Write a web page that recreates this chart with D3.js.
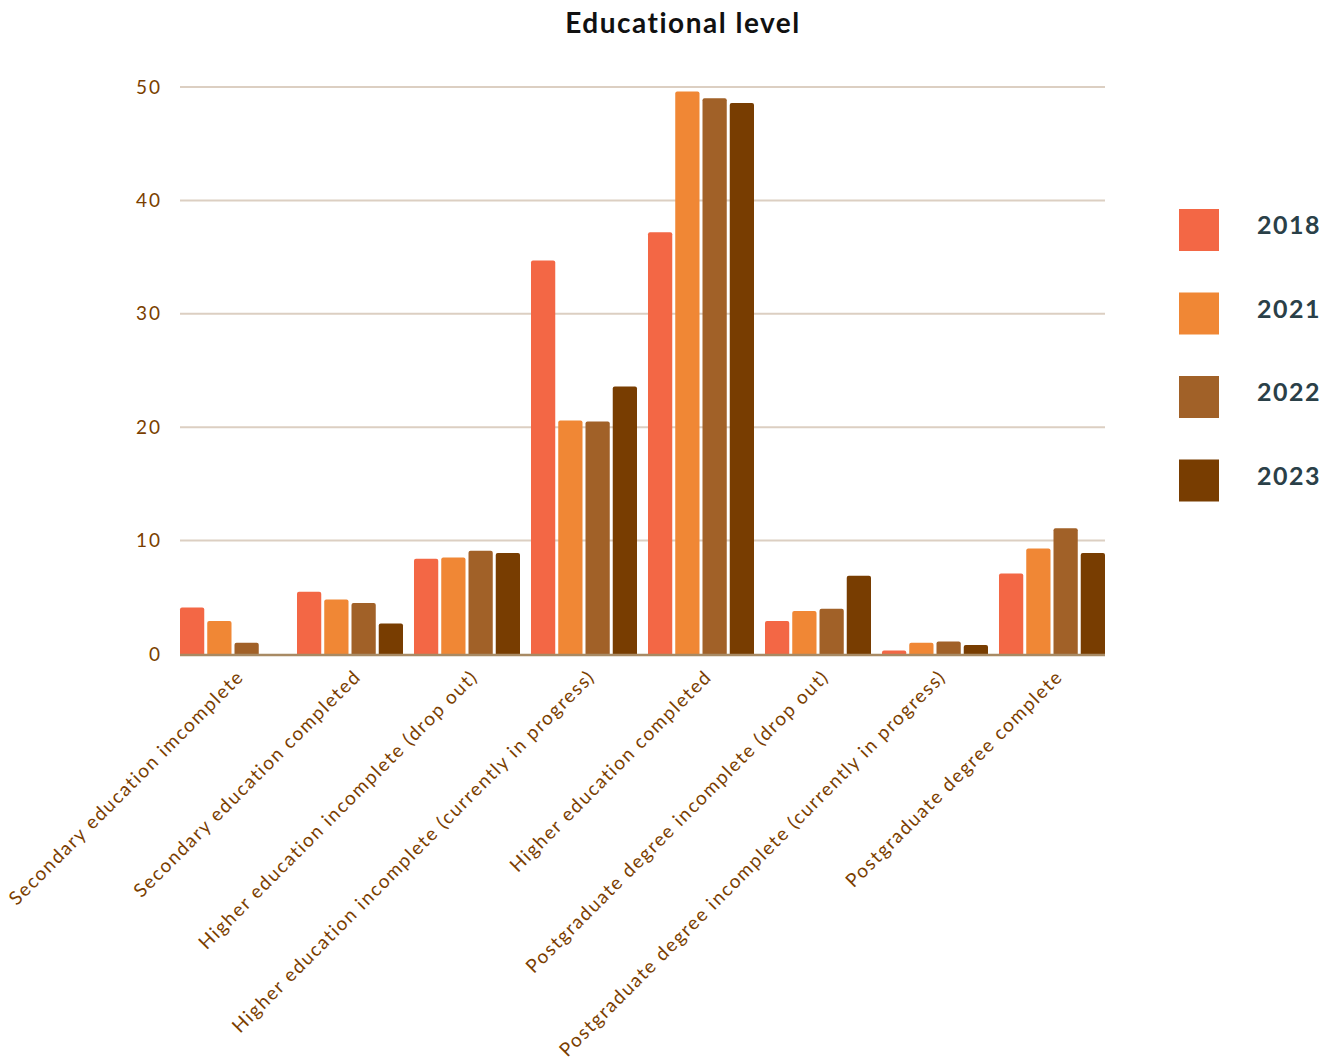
<!DOCTYPE html>
<html>
<head>
<meta charset="utf-8">
<script src="https://cdn.jsdelivr.net/npm/d3@7"></script>
<style>
  body { margin: 0; background: #fff; }
  text { font-family: Lato, "Open Sans", sans-serif; }
</style>
</head>
<body>
<script>
const width = 1342;
const height = 1061;
const marginTop = 87;
const marginLeft = 180;
const plotRight = 1105;
const plotBottom = 654;

const categories = [
  "Secondary education imcomplete",
  "Secondary education completed",
  "Higher education incomplete (drop out)",
  "Higher education incomplete (currently in progress)",
  "Higher education completed",
  "Postgraduate degree incomplete (drop out)",
  "Postgraduate degree incomplete (currently in progress)",
  "Postgraduate degree complete"
];
const years = ["2018", "2021", "2022", "2023"];
const colors = ["#f36745", "#f08735", "#a16128", "#783d01"];

const values2018 = [4.1, 5.5, 8.4, 34.7, 37.2, 2.9, 0.3, 7.1];
const values2021 = [2.9, 4.8, 8.5, 20.6, 49.6, 3.8, 1.0, 9.3];
const values2022 = [1.0, 4.5, 9.1, 20.5, 49.0, 4.0, 1.1, 11.1];
const values2023 = [0.0, 2.7, 8.9, 23.6, 48.6, 6.9, 0.8, 8.9];
const series = [values2018, values2021, values2022, values2023];
const yTicks = [0, 10, 20, 30, 40, 50];

const svg = d3.select("body").append("svg")
    .attr("width", width)
    .attr("height", height);

const x0 = d3.scaleBand()
    .domain(categories)
    .range([marginLeft, plotRight])
    .paddingInner(0.094)
    .paddingOuter(0);

const x1 = d3.scaleBand()
    .domain(years)
    .range([0, x0.bandwidth()])
    .paddingInner(0.11);

const y = d3.scaleLinear()
    .domain([0, 50])
    .range([plotBottom, marginTop]);

const color = d3.scaleOrdinal().domain(years).range(colors);

//title
svg.append("text")
    .attr("x", 683)
    .attr("y", 33)
    .attr("text-anchor", "middle")
    .attr("font-size", 28)
    .attr("font-weight", "bold")
    .attr("letter-spacing", 1.5)
    .attr("fill", "#111")
    .text("Educational level");

//grid lines
svg.append("g")
  .selectAll("line")
  .data(yTicks.filter(d => d > 0))
  .join("line")
    .attr("x1", marginLeft)
    .attr("x2", plotRight)
    .attr("y1", d => y(d))
    .attr("y2", d => y(d))
    .attr("stroke", "#dccfc2")
    .attr("stroke-width", 2);

//y labels
svg.append("g")
  .selectAll("text")
  .data(yTicks)
  .join("text")
    .attr("x", 162)
    .attr("y", d => y(d))
    .attr("dy", "0.35em")
    .attr("text-anchor", "end")
    .attr("font-size", 19)
    .attr("letter-spacing", 2)
    .attr("fill", "#7a3e00")
    .text(d => d);

//bars
const rows = categories.map((c, i) => ({
  category: c,
  bars: years.map((yr, j) => ({ year: yr, value: series[j][i] }))
}));

const groups = svg.append("g")
  .selectAll("g")
  .data(rows)
  .join("g")
    .attr("transform", d => `translate(${x0(d.category)},0)`);

groups.selectAll("rect")
  .data(d => d.bars.filter(b => b.value > 0))
  .join("rect")
    .attr("x", d => x1(d.year))
    .attr("y", d => y(d.value))
    .attr("width", x1.bandwidth())
    .attr("height", d => y(0) - y(d.value) + 2)
    .attr("rx", 2)
    .attr("fill", d => color(d.year));

//baseline
svg.append("line")
    .attr("x1", marginLeft)
    .attr("x2", plotRight)
    .attr("y1", y(0) + 1)
    .attr("y2", y(0) + 1)
    .attr("stroke", "#a88a64")
    .attr("stroke-width", 2.5);

//x labels
svg.append("g")
  .selectAll("text")
  .data(categories)
  .join("text")
    .attr("transform", d => `translate(${x0(d) + x0.bandwidth() / 2 + 12},${plotBottom + 24}) rotate(-45)`)
    .attr("text-anchor", "end")
    .attr("font-size", 19)
    .attr("letter-spacing", 1.55)
    .attr("fill", "#7a3e00")
    .text(d => d);

//legend
const legend = svg.append("g")
  .selectAll("g")
  .data(years)
  .join("g")
    .attr("transform", (d, i) => `translate(1179,${209 + i * 83.5})`);

legend.append("rect")
    .attr("width", 40)
    .attr("height", 42)
    .attr("fill", d => color(d));

legend.append("text")
    .attr("x", 78)
    .attr("y", 16.5)
    .attr("dy", "0.35em")
    .attr("font-size", 25)
    .attr("font-weight", "bold")
    .attr("letter-spacing", 1.5)
    .attr("fill", "#2a4048")
    .text(d => d);
</script>
</body>
</html>
